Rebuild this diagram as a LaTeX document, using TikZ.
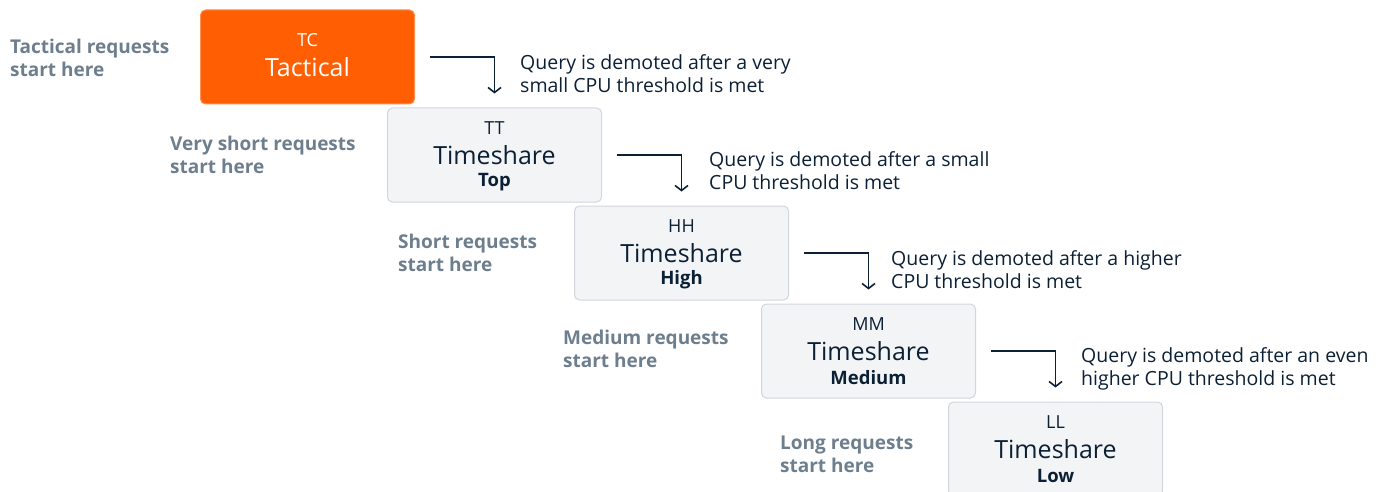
\documentclass[tikz,border=0pt]{standalone}
\usepackage{fontspec}
\setmainfont{Open Sans}
\usetikzlibrary{arrows.meta}
\definecolor{accent}{HTML}{FF5F02}
\definecolor{boxfill}{HTML}{F3F4F6}
\definecolor{boxline}{HTML}{D2D6DC}
\definecolor{ink}{HTML}{0C2035}
\definecolor{muted}{HTML}{6D7E8D}
\tikzset{
  tier/.style={draw=boxline, fill=boxfill, line width=1pt, rounded corners=5pt,
    minimum width=214pt, minimum height=94pt, inner sep=0pt},
  tactbox/.style={tier, fill=accent, draw=accent!70!white},
  code/.style={font=\fontsize{18}{20}\selectfont, text=ink, inner sep=0pt},
  tiername/.style={font=\fontsize{25}{28}\selectfont, text=ink, inner sep=0pt},
  sub/.style={font=\fontsize{18.5}{20}\selectfont\bfseries, text=ink, inner sep=0pt},
  entry/.style={font=\fontsize{19}{23}\selectfont\bfseries, text=muted, align=left, anchor=west, inner sep=0pt},
  note/.style={font=\fontsize{19.5}{23}\selectfont, text=ink, align=left, anchor=west, inner sep=0pt},
  demote/.style={draw=ink, line width=1.6pt, -{Straight Barb[length=5pt,width=13pt,line width=1.6pt]}},
}
\begin{document}
\begin{tikzpicture}[x=1pt,y=-1pt]
\useasboundingbox (0,0) rectangle (1382,492);

% tier boxes, one step down and right per level
\node[tactbox] (tc) at (307.5,57) {};
\node[tier] (tt) at (494.5,155) {};
\node[tier] (hh) at (681.5,253) {};
\node[tier] (mm) at (868.5,351) {};
\node[tier] (ll) at (1055.5,449) {};

% box contents
\node[code, text=white] (tc-code) at ([yshift=17pt]tc.center) {TC};
\node[tiername, text=white] (tc-name) at ([yshift=-10pt]tc.center) {Tactical};

\node[code] (tt-code) at ([yshift=27pt]tt.center) {TT};
\node[tiername] (tt-name) at (tt.center) {Timeshare};
\node[sub] (tt-sub) at ([yshift=-27pt]tt.center) {Top};

\node[code] (hh-code) at ([yshift=27pt]hh.center) {HH};
\node[tiername] (hh-name) at (hh.center) {Timeshare};
\node[sub] (hh-sub) at ([yshift=-27pt]hh.center) {High};

\node[code] (mm-code) at ([yshift=27pt]mm.center) {MM};
\node[tiername] (mm-name) at (mm.center) {Timeshare};
\node[sub] (mm-sub) at ([yshift=-27pt]mm.center) {Medium};

\node[code] (ll-code) at ([yshift=27pt]ll.center) {LL};
\node[tiername] (ll-name) at (ll.center) {Timeshare};
\node[sub] (ll-sub) at ([yshift=-27pt]ll.center) {Low};

% where each kind of request enters
\node[entry] (e-tc) at (10,57.5) {Tactical requests\\start here};
\node[entry] (e-tt) at (170,154.5) {Very short requests\\start here};
\node[entry] (e-hh) at (398,252.5) {Short requests\\start here};
\node[entry] (e-mm) at (563,348.5) {Medium requests\\start here};
\node[entry] (e-ll) at (780,454.5) {Long requests\\start here};

% demotion steps
\draw[demote] ([xshift=15pt]tc.east) -| ([yshift=14pt]tt.north);
\draw[demote] ([xshift=15pt]tt.east) -| ([yshift=14pt]hh.north);
\draw[demote] ([xshift=15pt]hh.east) -| ([yshift=14pt]mm.north);
\draw[demote] ([xshift=15pt]mm.east) -| ([yshift=14pt]ll.north);

\node[note] (n-tc) at (520,73.5) {Query is demoted after a very\\small CPU threshold is met};
\node[note] (n-tt) at (709,170.5) {Query is demoted after a small\\CPU threshold is met};
\node[note] (n-hh) at (891,269.5) {Query is demoted after a higher\\CPU threshold is met};
\node[note] (n-mm) at (1081,368.5) {Query is demoted after an even\\higher CPU threshold is met};
\end{tikzpicture}
\end{document}
